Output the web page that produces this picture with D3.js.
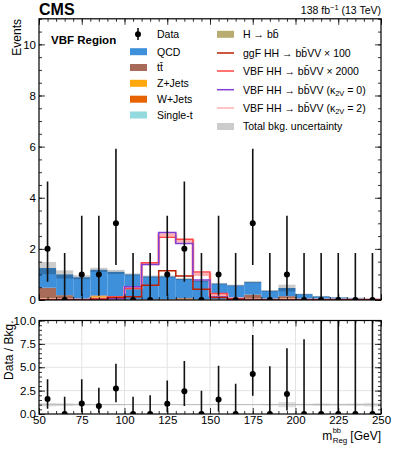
<!DOCTYPE html>
<html>
<head>
<meta charset="utf-8">
<script src="https://cdn.jsdelivr.net/npm/d3@7"></script>
<style>
    body { margin: 0; background: #fff; }
    text { font-family: "Liberation Sans", Arial, sans-serif; }
</style>
</head>
<body>
<script>
// Bin edges in m_bb (GeV)
const binEdges = [50, 60, 70, 80, 90, 100, 110, 120, 130, 140, 150, 160, 170, 180, 190, 200, 210, 220, 230, 240, 250];

// Observed events
const dataCounts = [2, 0, 1, 1, 3, 0, 0, 1, 2, 0, 1, 0, 3, 0, 1, 0, 0, 0, 0, 0];
// Poisson (Garwood) intervals [low, high] for small counts
const poissonInterval = {0: [0, 1.84], 1: [0.17, 3.30], 2: [0.71, 4.64], 3: [1.37, 5.92]};

// Background processes
const qcd    = [0.77, 0.81, 0.85, 1.00, 1.05, 0.97, 0.89, 0.88, 0.74, 0.71, 0.61, 0.54, 0.49, 0.33, 0.32, 0.21, 0.13, 0.09, 0.07, 0.04];
const ttbar  = [0.42, 0.17, 0.02, 0.03, 0.03, 0.02, 0.02, 0.02, 0.03, 0.02, 0.02, 0.02, 0.17, 0.02, 0.09, 0.02, 0.01, 0.01, 0.01, 0.01];
const zjets  = [0.04, 0.00, 0.01, 0.11, 0.01, 0.00, 0.00, 0.00, 0.00, 0.00, 0.00, 0.00, 0.03, 0.00, 0.04, 0.00, 0.00, 0.00, 0.00, 0.00];
const wjets  = [0.00, 0.00, 0.00, 0.02, 0.00, 0.00, 0.00, 0.00, 0.03, 0.00, 0.00, 0.00, 0.00, 0.00, 0.00, 0.00, 0.00, 0.00, 0.00, 0.00];
const singlet = [0.01, 0.01, 0.00, 0.00, 0.00, 0.00, 0.00, 0.00, 0.00, 0.00, 0.00, 0.00, 0.00, 0.00, 0.01, 0.00, 0.00, 0.00, 0.00, 0.00];
const hbb    = [0.01, 0.01, 0.01, 0.02, 0.01, 0.01, 0.01, 0.02, 0.02, 0.01, 0.01, 0.01, 0.01, 0.01, 0.01, 0.00, 0.00, 0.00, 0.00, 0.00];
// Absolute total background uncertainty
const bkgUnc = [0.24, 0.16, 0.08, 0.08, 0.08, 0.04, 0.04, 0.04, 0.04, 0.04, 0.03, 0.03, 0.04, 0.03, 0.13, 0.02, 0.02, 0.01, 0.01, 0.01];

// Signals (scaled)
const ggfHH   = [0, 0, 0, 0.02, 0.10, 0.13, 0.58, 1.14, 0.94, 0.42, 0.10, 0.03, 0, 0, 0, 0, 0, 0, 0, 0];
const vbfHH   = [0, 0, 0, 0.05, 0.12, 0.45, 1.46, 2.45, 2.38, 1.10, 0.25, 0.05, 0, 0, 0, 0, 0, 0, 0, 0];
const vbfK2v0 = [0, 0, 0, 0.02, 0.05, 0.52, 1.39, 2.64, 2.21, 0.78, 0.12, 0.03, 0, 0, 0, 0, 0, 0, 0, 0];
const vbfK2v2 = [0, 0, 0, 0.04, 0.10, 0.48, 1.42, 2.55, 2.30, 1.00, 0.20, 0.05, 0, 0, 0, 0, 0, 0, 0, 0];

const mainTicks = [0, 2, 4, 6, 8, 10];
const ratioTicks = [0, 2.5, 5, 7.5, 10];
const xTicks = [50, 75, 100, 125, 150, 175, 200, 225, 250];

const colors = {
    qcd: "#3f90da", ttbar: "#a96b59", zjets: "#ffa90e", wjets: "#e76300",
    singlet: "#92dadd", hbb: "#b9ac70",
    ggf: "#bd1f01", vbf: "#ff4545", k0: "#7f3fd6", k2: "#ffb0b0"
};

const width = 393, height = 449;
const svg = d3.select("body").append("svg").attr("width", width).attr("height", height);

const x = d3.scaleLinear().domain([50, 250]).range([39, 381]);
const y = d3.scaleLinear().domain([0, 11]).range([300, 18.8]);
const yr = d3.scaleLinear().domain([0, 10]).range([414, 320.5]);

const bins = dataCounts.map((n, i) => ({
    i, lo: binEdges[i], hi: binEdges[i + 1], mid: (binEdges[i] + binEdges[i + 1]) / 2,
    data: n, hbb: hbb[i], singlet: singlet[i], wjets: wjets[i], zjets: zjets[i], ttbar: ttbar[i], qcd: qcd[i], unc: bkgUnc[i]
}));

// Stack bottom -> top (legend shows the reverse)
const keys = ["hbb", "singlet", "wjets", "zjets", "ttbar", "qcd"];
const stacked = d3.stack().keys(keys)(bins);
bins.forEach((b, i) => { b.total = stacked[stacked.length - 1][i][1]; });

svg.append("clipPath").attr("id", "clipMain").append("rect")
    .attr("x", x(50)).attr("y", y(11)).attr("width", x(250) - x(50)).attr("height", y(0) - y(11));
svg.append("clipPath").attr("id", "clipRatio").append("rect")
    .attr("x", x(50)).attr("y", yr(10)).attr("width", x(250) - x(50)).attr("height", yr(0) - yr(10));

const main = svg.append("g").attr("clip-path", "url(#clipMain)");

// Stacked backgrounds
main.selectAll("g.stack")
    .data(stacked)
    .join("g")
    .attr("class", "stack")
    .attr("fill", d => colors[d.key])
    .selectAll("rect")
    .data(d => d)
    .join("rect")
    .attr("x", d => x(d.data.lo))
    .attr("width", d => x(d.data.hi) - x(d.data.lo))
    .attr("y", d => y(d[1]))
    .attr("height", d => y(d[0]) - y(d[1]));

// Total background uncertainty
main.selectAll("rect.unc")
    .data(bins)
    .join("rect")
    .attr("class", "unc")
    .attr("x", d => x(d.lo))
    .attr("width", d => x(d.hi) - x(d.lo))
    .attr("y", d => y(d.total + d.unc))
    .attr("height", d => y(d.total - d.unc) - y(d.total + d.unc))
    .attr("fill", "#000")
    .attr("fill-opacity", 0.2);

// Signal step lines
function stepPoints(vals) {
    const pts = vals.map((v, i) => [binEdges[i], v]);
    pts.push([binEdges[binEdges.length - 1], vals[vals.length - 1]]);
    return pts;
}
const stepLine = d3.line().x(d => x(d[0])).y(d => y(d[1])).curve(d3.curveStepAfter);
const signals = [
    {vals: vbfK2v2, color: colors.k2, w: 3},
    {vals: vbfHH, color: colors.vbf, w: 1.5},
    {vals: vbfK2v0, color: colors.k0, w: 1.5},
    {vals: ggfHH, color: colors.ggf, w: 1.5}
];
main.selectAll("path.sig")
    .data(signals)
    .join("path")
    .attr("class", "sig")
    .attr("d", d => stepLine(stepPoints(d.vals)))
    .attr("fill", "none")
    .attr("stroke", d => d.color)
    .attr("stroke-width", d => d.w);

// Data points
const dataG = svg.append("g").attr("clip-path", "url(#clipMain)");
dataG.selectAll("line")
    .data(bins)
    .join("line")
    .attr("x1", d => x(d.mid)).attr("x2", d => x(d.mid))
    .attr("y1", d => y(poissonInterval[d.data][0]))
    .attr("y2", d => y(poissonInterval[d.data][1]))
    .attr("stroke", "#111")
    .attr("stroke-width", 1.6);
dataG.selectAll("circle")
    .data(bins)
    .join("circle")
    .attr("cx", d => x(d.mid))
    .attr("cy", d => y(d.data))
    .attr("r", 3)
    .attr("fill", "#000");

// ---- Ratio panel ----
const ratio = svg.append("g").attr("clip-path", "url(#clipRatio)");
ratio.selectAll("line.vgrid")
    .data(xTicks.slice(1, -1))
    .join("line")
    .attr("class", "vgrid")
    .attr("x1", d => x(d)).attr("x2", d => x(d))
    .attr("y1", yr(0)).attr("y2", yr(10))
    .attr("stroke", "#e3e3e3").attr("stroke-width", 1);
ratio.selectAll("line.hgrid")
    .data(ratioTicks.slice(1, -1))
    .join("line")
    .attr("class", "hgrid")
    .attr("x1", x(50)).attr("x2", x(250))
    .attr("y1", d => yr(d)).attr("y2", d => yr(d))
    .attr("stroke", "#e3e3e3").attr("stroke-width", 1);
ratio.append("line")
    .attr("x1", x(50)).attr("x2", x(250))
    .attr("y1", yr(1)).attr("y2", yr(1))
    .attr("stroke", "#d0d0d0").attr("stroke-width", 1);
ratio.selectAll("rect.unc")
    .data(bins)
    .join("rect")
    .attr("class", "unc")
    .attr("x", d => x(d.lo))
    .attr("width", d => x(d.hi) - x(d.lo))
    .attr("y", d => yr(1 + d.unc / d.total))
    .attr("height", d => yr(1 - d.unc / d.total) - yr(1 + d.unc / d.total))
    .attr("fill", "#000")
    .attr("fill-opacity", 0.12);
ratio.selectAll("line.err")
    .data(bins)
    .join("line")
    .attr("class", "err")
    .attr("x1", d => x(d.mid)).attr("x2", d => x(d.mid))
    .attr("y1", d => yr(poissonInterval[d.data][0] / d.total))
    .attr("y2", d => yr(poissonInterval[d.data][1] / d.total))
    .attr("stroke", "#111")
    .attr("stroke-width", 1.6);
ratio.selectAll("circle")
    .data(bins)
    .join("circle")
    .attr("cx", d => x(d.mid))
    .attr("cy", d => yr(d.data / d.total))
    .attr("r", 3)
    .attr("fill", "#000");

// ---- Axes (ticks inside on all sides) ----
function styleAxis(g) {
    g.select(".domain").remove();
    g.selectAll(".tick line").attr("stroke", "#000").attr("stroke-width", 0.8);
    g.selectAll(".tick text").attr("font-size", "11.5px").attr("fill", "#000")
        .attr("font-family", "'Liberation Sans', Arial, sans-serif");
}
function addAxes(yScale, majors, minorStep, fmt, top, bottom, showX) {
    const [d0, d1] = yScale.domain();
    const minors = d3.range(d0, d1 + 1e-9, minorStep);
    const xMinors = d3.range(50, 250.001, 5);
    svg.append("g").attr("transform", `translate(${x(50)},0)`)
        .call(d3.axisLeft(yScale).tickValues(minors).tickSize(-3).tickFormat("")).call(styleAxis);
    svg.append("g").attr("transform", `translate(${x(50)},0)`)
        .call(d3.axisLeft(yScale).tickValues(majors).tickSize(-6).tickPadding(3).tickFormat(fmt)).call(styleAxis);
    svg.append("g").attr("transform", `translate(${x(250)},0)`)
        .call(d3.axisRight(yScale).tickValues(minors).tickSize(-3).tickFormat("")).call(styleAxis);
    svg.append("g").attr("transform", `translate(${x(250)},0)`)
        .call(d3.axisRight(yScale).tickValues(majors).tickSize(-6).tickFormat("")).call(styleAxis);
    svg.append("g").attr("transform", `translate(0,${top})`)
        .call(d3.axisTop(x).tickValues(xMinors).tickSize(-3).tickFormat("")).call(styleAxis);
    svg.append("g").attr("transform", `translate(0,${top})`)
        .call(d3.axisTop(x).tickValues(xTicks).tickSize(-6).tickFormat("")).call(styleAxis);
    svg.append("g").attr("transform", `translate(0,${bottom})`)
        .call(d3.axisBottom(x).tickValues(xMinors).tickSize(-3).tickFormat("")).call(styleAxis);
    svg.append("g").attr("transform", `translate(0,${bottom})`)
        .call(d3.axisBottom(x).tickValues(xTicks).tickSize(-6).tickPadding(2)
            .tickFormat(showX ? d3.format("d") : "")).call(styleAxis);
    svg.append("rect")
        .attr("x", x(50)).attr("y", top)
        .attr("width", x(250) - x(50)).attr("height", bottom - top)
        .attr("fill", "none").attr("stroke", "#000").attr("stroke-width", 1.2);
}
addAxes(y, mainTicks, 0.5, d3.format("d"), y(11), y(0), false);
addAxes(yr, ratioTicks, 0.5, d3.format(".1f"), yr(10), yr(0), true);

// ---- Labels ----
svg.append("text").attr("x", 39).attr("y", 15)
    .attr("font-size", "16px").attr("font-weight", "bold").text("CMS");

const lumi = svg.append("text").attr("x", 381).attr("y", 14)
    .attr("text-anchor", "end").attr("font-size", "10.5px");
lumi.append("tspan").text("138 fb");
lumi.append("tspan").attr("dy", -4).attr("font-size", "7.5px").text("\u22121");
lumi.append("tspan").attr("dy", 4).text(" (13 TeV)");

svg.append("text").attr("transform", "translate(21,19) rotate(-90)")
    .attr("text-anchor", "end").attr("font-size", "12px").text("Events");
svg.append("text").attr("transform", `translate(13,${yr(10)}) rotate(-90)`)
    .attr("text-anchor", "end").attr("font-size", "12px").text("Data / Bkg.");

svg.append("text").attr("x", 51).attr("y", 44)
    .attr("font-size", "11.5px").attr("font-weight", "bold").text("VBF Region");

// x-axis title: m^{bb}_{Reg} [GeV]
const gev = svg.append("text").attr("x", 381).attr("y", 440)
    .attr("text-anchor", "end").attr("font-size", "12px").text("[GeV]");
const gevLeft = 381 - gev.node().getComputedTextLength() - 3;
const reg = svg.append("text").attr("x", gevLeft).attr("y", 443)
    .attr("text-anchor", "end").attr("font-size", "8px").text("Reg");
const regLeft = gevLeft - reg.node().getComputedTextLength();
svg.append("text").attr("x", regLeft).attr("y", 433).attr("font-size", "7.5px").text("bb");
svg.append("text").attr("x", regLeft - 0.5).attr("y", 440)
    .attr("text-anchor", "end").attr("font-size", "12px").text("m");

// ---- Legend ----
const legendFont = "10.5px";
const leftItems = [
    {label: "tt\u0304", color: colors.ttbar, y: 67.5},
    {label: "QCD", color: colors.qcd, y: 51.7},
    {label: "Z+Jets", color: colors.zjets, y: 83.3},
    {label: "W+Jets", color: colors.wjets, y: 99.2},
    {label: "Single-t", color: colors.singlet, y: 115}
];
const leg = svg.append("g");
// Data entry
leg.append("line").attr("x1", 138).attr("x2", 138).attr("y1", 28).attr("y2", 40)
    .attr("stroke", "#000").attr("stroke-width", 1.5);
leg.append("circle").attr("cx", 138).attr("cy", 34.3).attr("r", 3).attr("fill", "#000");
leg.append("text").attr("x", 157).attr("y", 38).attr("font-size", legendFont).text("Data");
leftItems.forEach(d => {
    leg.append("rect").attr("x", 130).attr("y", d.y - 3.5).attr("width", 17).attr("height", 7).attr("fill", d.color);
    leg.append("text").attr("x", 157).attr("y", d.y + 3.8).attr("font-size", legendFont).text(d.label);
});

const rightItems = [
    {type: "rect", color: colors.hbb, y: 34.3, text: ["H \u2192 bb\u0304"]},
    {type: "line", color: colors.ggf, y: 53, text: ["ggF HH \u2192 bb\u0304VV \u00d7 100"]},
    {type: "line", color: colors.vbf, y: 71, text: ["VBF HH \u2192 bb\u0304VV \u00d7 2000"]},
    {type: "line", color: colors.k0, y: 89.7, text: ["VBF HH \u2192 bb\u0304VV (\u03ba", "2V", " = 0)"]},
    {type: "line", color: colors.k2, y: 108, text: ["VBF HH \u2192 bb\u0304VV (\u03ba", "2V", " = 2)"]},
    {type: "rect", color: "#cccccc", y: 126.5, text: ["Total bkg. uncertainty"]}
];
rightItems.forEach(d => {
    if (d.type === "rect") {
        leg.append("rect").attr("x", 217).attr("y", d.y - 3.5).attr("width", 17).attr("height", 7).attr("fill", d.color);
    } else {
        leg.append("line").attr("x1", 217).attr("x2", 234).attr("y1", d.y).attr("y2", d.y)
            .attr("stroke", d.color).attr("stroke-width", 1.5);
    }
    const t = leg.append("text").attr("x", 243).attr("y", d.y + 3.8).attr("font-size", legendFont);
    t.append("tspan").text(d.text[0]);
    if (d.text.length > 1) {
        t.append("tspan").attr("dy", 2.5).attr("font-size", "7.5px").text(d.text[1]);
        t.append("tspan").attr("dy", -2.5).text(d.text[2]);
    }
});
</script>
</body>
</html>
